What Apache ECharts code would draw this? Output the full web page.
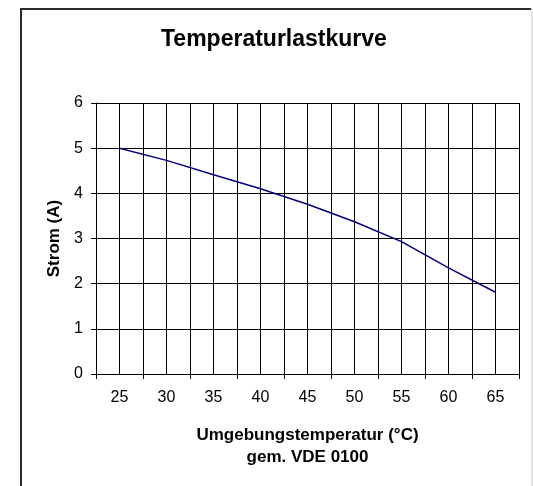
<!DOCTYPE html>
<html>
<head>
<meta charset="utf-8">
<title>Temperaturlastkurve</title>
<script src="https://cdn.jsdelivr.net/npm/echarts@6.0.0/dist/echarts.min.js"></script>
<style>
  html, body { margin: 0; padding: 0; background: #fff; }
  #chart { width: 533px; height: 486px; }
</style>
</head>
<body>
<div id="chart"></div>
<script>
// Umgebungstemperatur (°C)
const temperaturen = ["25", "30", "35", "40", "45", "50", "55", "60", "65"];
// Strom (A)
const strom = [5.0, 4.73, 4.41, 4.10, 3.76, 3.37, 2.93, 2.35, 1.81];
// half-band grid steps (Excel draws lines at category centres and edges)
const gridSteps = temperaturen.length * 2;

const fontFamily = "'Liberation Sans', Arial, sans-serif";
const chart = echarts.init(document.getElementById("chart"));

const option = {
  backgroundColor: "#fff",
  animation: false,
  title: {
    text: "Temperaturlastkurve",
    left: 161,
    top: 28,
    padding: 0,
    textStyle: { fontFamily: fontFamily, fontWeight: "bold", fontSize: 23, color: "#000" }
  },
  graphic: [
    {
      // outer chart frame, left + top
      type: "polyline",
      shape: { points: [[21, 500], [21, 9], [531, 9]] },
      style: { fill: "none", stroke: "#2b2b2b", lineWidth: 2 },
      silent: true
    },
    {
      // right edge of the frame, lighter
      type: "line",
      shape: { x1: 532, y1: 8, x2: 532, y2: 500 },
      style: { stroke: "#c8c8c8", lineWidth: 1 },
      silent: true
    }
  ],
  grid: {
    left: 96,
    right: 14,
    top: 103,
    bottom: 112,
    outerBoundsMode: "none"
  },
  xAxis: [
    {
      type: "category",
      data: temperaturen,
      boundaryGap: true,
      axisLine: { lineStyle: { color: "#000", width: 1 } },
      axisTick: { show: true, length: 5, lineStyle: { color: "#000" } },
      axisLabel: { color: "#000", fontSize: 16, fontFamily: fontFamily, margin: 16 },
      splitLine: { show: false },
      name: "Umgebungstemperatur (°C)\ngem. VDE 0100",
      nameLocation: "middle",
      nameGap: 50,
      nameTextStyle: { color: "#000", fontSize: 17, fontWeight: "bold", fontFamily: fontFamily, lineHeight: 22 }
    },
    {
      // helper axis, only for the vertical grid lines
      type: "value",
      position: "bottom",
      min: 0,
      max: gridSteps,
      interval: 1,
      axisLine: { show: false },
      axisTick: { show: false },
      axisLabel: { show: false },
      splitLine: { show: true, lineStyle: { color: "#000", width: 1 } }
    }
  ],
  yAxis: {
    type: "value",
    min: 0,
    max: 6,
    interval: 1,
    axisLine: { show: true, lineStyle: { color: "#000", width: 1 } },
    axisTick: { show: true, length: 5, lineStyle: { color: "#000" } },
    axisLabel: { color: "#000", fontSize: 16, fontFamily: fontFamily, margin: 13 },
    splitLine: { show: true, lineStyle: { color: "#000", width: 1 } },
    name: "Strom (A)",
    nameLocation: "middle",
    nameRotate: 90,
    nameGap: 33,
    nameTextStyle: { color: "#000", fontSize: 17, fontWeight: "bold", fontFamily: fontFamily }
  },
  series: [
    {
      type: "line",
      xAxisIndex: 0,
      data: strom,
      showSymbol: false,
      symbol: "none",
      lineStyle: { color: "#000080", width: 1.5 },
      itemStyle: { color: "#000080" }
    }
  ]
};

chart.setOption(option);
</script>
</body>
</html>
